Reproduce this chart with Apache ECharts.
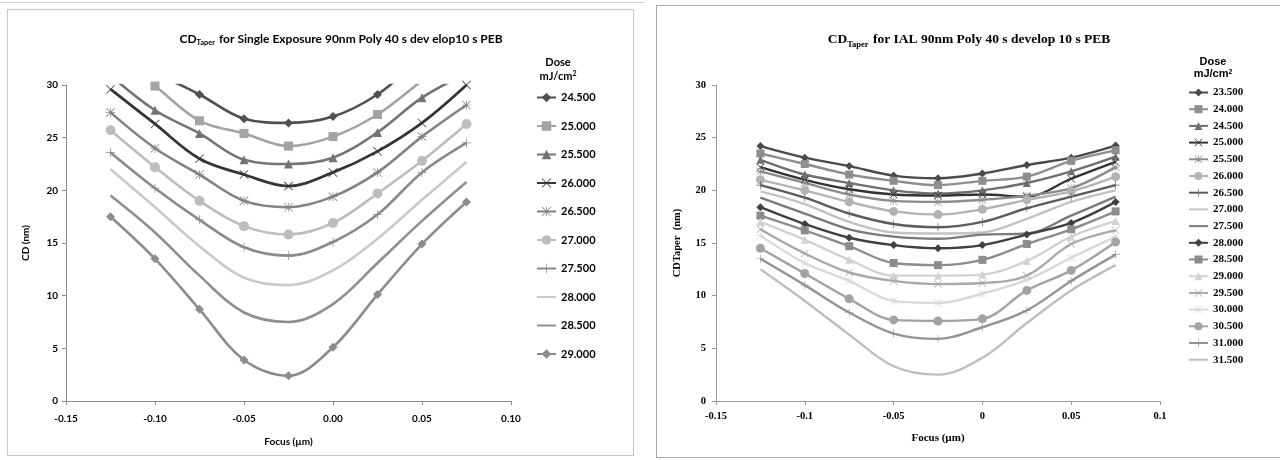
<!DOCTYPE html>
<html>
<head>
<meta charset="utf-8">
<script src="https://cdn.jsdelivr.net/npm/echarts@6/dist/echarts.min.js"></script>
<style>
html,body{margin:0;padding:0;background:#fff;width:1280px;height:460px;overflow:hidden;}
#topline{position:absolute;left:0;top:2px;width:645px;height:1px;background:#c9d6e6;}
#left{position:absolute;left:7px;top:9px;width:627px;height:447px;border:1px solid #c8c8c8;box-sizing:border-box;}
#right{position:absolute;left:656px;top:5px;width:624px;height:453px;border:1px solid #a8a8a8;border-right:none;box-sizing:border-box;}
</style>
</head>
<body>
<div id="topline"></div>
<div id="left"></div>
<div id="right"></div>
<script>
// ---------- shared x values ----------
const focus = [-0.125, -0.1, -0.075, -0.05, -0.025, 0, 0.025, 0.05, 0.075];
const xTicksLeft = ['-0.15', '-0.10', '-0.05', '0.00', '0.05', '0.10'];
const xTicksRight = ['-0.15', '-0.1', '-0.05', '0', '0.05', '0.1'];

// ---------- left chart: Single Exposure ----------
const leftDoses = ['24.500','25.000','25.500','26.000','26.500','27.000','27.500','28.000','28.500','29.000'];
const L245 = [33.5, 31.2, 29.1, 26.8, 26.4, 27.0, 29.1, 32.5, 35.0];
const L250 = [33.0, 29.9, 26.6, 25.4, 24.2, 25.1, 27.2, 30.4, 33.5];
const L255 = [30.9, 27.6, 25.4, 22.9, 22.5, 23.1, 25.5, 28.8, 31.1];
const L260 = [29.6, 26.3, 23.0, 21.5, 20.4, 21.7, 23.7, 26.4, 30.0];
const L265 = [27.4, 24.0, 21.5, 19.0, 18.4, 19.4, 21.7, 25.1, 28.1];
const L270 = [25.7, 22.2, 19.0, 16.6, 15.8, 16.9, 19.7, 22.8, 26.3];
const L275 = [23.6, 20.2, 17.2, 14.6, 13.8, 15.1, 17.7, 21.7, 24.5];
const L280 = [22.0, 18.4, 14.7, 11.7, 11.0, 12.4, 15.4, 19.1, 22.7];
const L285 = [19.5, 16.0, 11.9, 8.4, 7.5, 9.2, 13.1, 17.1, 20.8];
const L290 = [17.5, 13.5, 8.7, 3.9, 2.4, 5.1, 10.1, 14.9, 18.9];
const leftValues = [L245, L250, L255, L260, L265, L270, L275, L280, L285, L290];

// ---------- right chart: IAL ----------
const rightDoses = ['23.500','24.000','24.500','25.000','25.500','26.000','26.500','27.000','27.500',
                    '28.000','28.500','29.000','29.500','30.000','30.500','31.000','31.500'];
const R235 = [24.2, 23.1, 22.3, 21.4, 21.15, 21.6, 22.4, 23.1, 24.25];
const R240 = [23.5, 22.5, 21.5, 20.9, 20.5, 20.9, 21.3, 22.8, 23.8];
const R245 = [22.9, 21.5, 20.7, 20.0, 19.7, 20.0, 20.7, 21.8, 23.2];
const R250 = [22.2, 21.0, 20.1, 19.6, 19.5, 19.6, 19.4, 21.1, 22.7];
const R255 = [21.8, 20.7, 19.6, 19.0, 18.9, 19.1, 19.5, 20.2, 22.2];
const R260 = [21.0, 20.0, 18.9, 18.0, 17.7, 18.2, 19.1, 19.9, 21.3];
const R265 = [20.5, 19.3, 17.8, 16.8, 16.5, 17.0, 18.3, 19.4, 20.5];
const R270 = [19.9, 18.7, 17.0, 16.0, 15.9, 16.0, 17.3, 18.9, 20.0];
const R275 = [19.3, 17.8, 16.3, 15.6, 15.4, 15.8, 15.9, 17.6, 19.4];
const R280 = [18.4, 16.8, 15.5, 14.8, 14.5, 14.8, 15.8, 16.9, 18.9];
const R285 = [17.6, 16.2, 14.7, 13.1, 12.9, 13.4, 14.9, 16.3, 18.0];
const R290 = [17.0, 15.3, 13.4, 11.9, 11.9, 12.0, 13.3, 15.6, 17.1];
const R295 = [16.3, 14.0, 12.2, 11.4, 11.1, 11.2, 11.9, 14.9, 16.2];
const R300 = [15.7, 13.1, 11.4, 9.5, 9.3, 10.2, 11.5, 13.6, 15.6];
const R305 = [14.5, 12.1, 9.7, 7.7, 7.6, 7.8, 10.5, 12.4, 15.1];
const R310 = [13.5, 11.0, 8.4, 6.4, 5.9, 7.0, 8.6, 11.4, 13.9];
const R315 = [12.5, 9.5, 6.3, 3.3, 2.5, 4.1, 7.4, 10.5, 12.9];
const rightValues = [R235, R240, R245, R250, R255, R260, R265, R270, R275,
                     R280, R285, R290, R295, R300, R305, R310, R315];

// ---------- styling ----------
const SYM_X = 'path://M1.2,0L10,8.8L18.8,0L20,1.2L11.2,10L20,18.8L18.8,20L10,11.2L1.2,20L0,18.8L8.8,10L0,1.2Z';
const SYM_PLUS = 'path://M9.2,0H10.8V9.2H20V10.8H10.8V20H9.2V10.8H0V9.2H9.2Z';
const SYM_AST = 'path://M1.2,0L10,8.8L18.8,0L20,1.2L11.2,10L20,18.8L18.8,20L10,11.2L1.2,20L0,18.8L8.8,10L0,1.2Z M9.2,0H10.8V9.2H20V10.8H10.8V20H9.2V10.8H0V9.2H9.2Z';

const leftStyle = [
  {c:'#505050', s:'diamond', w:2.6},
  {c:'#a3a3a3', s:'rect', w:2.6},
  {c:'#737373', s:'triangle', w:2.6},
  {c:'#353535', s:SYM_X, w:2.8},
  {c:'#828282', s:SYM_AST, w:2.6},
  {c:'#bdbdbd', s:'circle', w:2.6},
  {c:'#8a8a8a', s:SYM_PLUS, w:2.6},
  {c:'#c9c9c9', s:'none', w:2.6},
  {c:'#8f8f8f', s:'none', w:2.6},
  {c:'#8c8c8c', s:'diamond', w:2.6}
];
const rightStyle = [
  {c:'#4a4a4a', s:'diamond'},
  {c:'#8e8e8e', s:'rect'},
  {c:'#6f6f6f', s:'triangle'},
  {c:'#333333', s:SYM_X},
  {c:'#8c8c8c', s:SYM_AST},
  {c:'#b3b3b3', s:'circle'},
  {c:'#5c5c5c', s:SYM_PLUS},
  {c:'#c2c2c2', s:'none'},
  {c:'#7a7a7a', s:'none'},
  {c:'#404040', s:'diamond'},
  {c:'#8c8c8c', s:'rect'},
  {c:'#d2d2d2', s:'triangle'},
  {c:'#a9a9a9', s:SYM_X},
  {c:'#d9d9d9', s:SYM_AST},
  {c:'#a3a3a3', s:'circle'},
  {c:'#939393', s:SYM_PLUS},
  {c:'#bebebe', s:'none'}
];

function buildSeries(names, values, styles, symSize, width) {
  return names.map((n, i) => ({
    name: n,
    type: 'line',
    smooth: 0.35,
    clip: true,
    data: focus.map((f, j) => [f, values[i][j]]),
    symbol: styles[i].s,
    symbolSize: styles[i].s === 'circle' ? symSize + 1 : symSize,
    showSymbol: styles[i].s !== 'none',
    lineStyle: {color: styles[i].c, width: styles[i].w || width},
    itemStyle: {color: styles[i].c, borderWidth: 0},
    emphasis: {disabled: true},
    animation: false
  }));
}
function legendData(names, styles) {
  return names.map((n, i) => styles[i].s === 'none' ? {name: n, itemStyle: {opacity: 0}} : {name: n});
}

function fmtLeft(v) { const k = Math.round((v + 0.15) / 0.05); return xTicksLeft[k] || ''; }
function fmtRight(v) { const k = Math.round((v + 0.15) / 0.05); return xTicksRight[k] || ''; }

// ---------- left chart ----------
const SANS = 'Lato, "Open Sans", sans-serif';
const leftChart = echarts.init(document.getElementById('left'));
leftChart.setOption({
  backgroundColor: '#fff',
  animation: false,
  grid: {left: 58, top: 75, width: 445, height: 316},
  xAxis: {
    type: 'value', min: -0.15, max: 0.1, interval: 0.05,
    axisLine: {onZero: false, lineStyle: {color: '#8c8c8c'}},
    axisTick: {show: true, length: 4, lineStyle: {color: '#8c8c8c'}},
    splitLine: {show: false},
    axisLabel: {formatter: fmtLeft, color: '#000', fontWeight: 'bold', fontSize: 10, fontFamily: SANS, margin: 13},
    name: 'Focus (µm)', nameLocation: 'middle', nameGap: 36,
    nameTextStyle: {color: '#000', fontWeight: 'bold', fontSize: 10, fontFamily: SANS}
  },
  yAxis: {
    type: 'value', min: 0, max: 30, interval: 5,
    axisLine: {show: true, onZero: false, lineStyle: {color: '#8c8c8c'}},
    axisTick: {show: true, length: 4, lineStyle: {color: '#8c8c8c'}},
    splitLine: {show: false},
    axisLabel: {color: '#000', fontWeight: 'bold', fontSize: 10, fontFamily: SANS, margin: 8},
    name: 'CD (nm)', nameLocation: 'middle', nameGap: 35, nameRotate: 90,
    nameTextStyle: {color: '#000', fontWeight: 'bold', fontSize: 10, fontFamily: SANS}
  },
  legend: {
    orient: 'vertical', left: 528, top: 82, padding: 0,
    itemWidth: 19, itemHeight: 12, itemGap: 17.5,
    selectedMode: false,
    textStyle: {color: '#000', fontWeight: 'bold', fontSize: 11, fontFamily: SANS},
    data: legendData(leftDoses, leftStyle)
  },
  graphic: [
    {type: 'text', x: 333, y: 27, style: {
      text: '{a|CD}{s|Taper}{a| for Single Exposure 90nm Poly 40 s dev elop10 s PEB}',
      align: 'center', verticalAlign: 'middle',
      rich: {
        a: {fontSize: 12, fontWeight: 'bold', fontFamily: SANS, fill: '#000', verticalAlign: 'bottom', lineHeight: 16},
        s: {fontSize: 7.5, fontWeight: 'bold', fontFamily: SANS, fill: '#000', verticalAlign: 'bottom', lineHeight: 12, padding: [0, 1, -2, 0]}
      }
    }},
    {type: 'text', x: 550, y: 52, style: {text: 'Dose', align: 'center', verticalAlign: 'middle', fontSize: 11, fontWeight: 'bold', fontFamily: SANS, fill: '#000'}},
    {type: 'text', x: 550, y: 66, style: {
      text: '{a|mJ/cm}{b|2}', align: 'center', verticalAlign: 'middle',
      rich: {a: {fontSize: 11, fontWeight: 'bold', fontFamily: SANS, fill: '#000', verticalAlign: 'top'},
             b: {fontSize: 7, fontWeight: 'bold', fontFamily: SANS, fill: '#000', verticalAlign: 'top', padding: [0, 0, 4, 0]}}
    }}
  ],
  series: buildSeries(leftDoses, leftValues, leftStyle, 9, 2.6)
});

// ---------- right chart ----------
const SERIF = '"Liberation Serif", "DejaVu Serif", serif';
const ARIAL = '"Liberation Sans", Arial, sans-serif';
const rightChart = echarts.init(document.getElementById('right'));
rightChart.setOption({
  backgroundColor: '#fff',
  animation: false,
  grid: {left: 59, top: 79, width: 444, height: 316},
  xAxis: {
    type: 'value', min: -0.15, max: 0.1, interval: 0.05,
    axisLine: {onZero: false, lineStyle: {color: '#9a9a9a'}},
    axisTick: {show: true, length: 4, lineStyle: {color: '#9a9a9a'}},
    splitLine: {show: false},
    axisLabel: {formatter: fmtRight, color: '#000', fontWeight: 'bold', fontSize: 10.5, fontFamily: SERIF, margin: 10},
    name: 'Focus (µm)', nameLocation: 'middle', nameGap: 32,
    nameTextStyle: {color: '#000', fontWeight: 'bold', fontSize: 11, fontFamily: SERIF}
  },
  yAxis: {
    type: 'value', min: 0, max: 30, interval: 5,
    axisLine: {show: true, onZero: false, lineStyle: {color: '#9a9a9a'}},
    axisTick: {show: true, length: 4, lineStyle: {color: '#9a9a9a'}},
    splitLine: {show: false},
    axisLabel: {color: '#000', fontWeight: 'bold', fontSize: 10.5, fontFamily: SERIF, margin: 10},
    name: 'CDTaper  (nm)', nameLocation: 'middle', nameGap: 33, nameRotate: 90,
    nameTextStyle: {color: '#000', fontWeight: 'bold', fontSize: 10.5, fontFamily: SERIF}
  },
  legend: {
    orient: 'vertical', left: 531, top: 81, padding: 0,
    itemWidth: 19, itemHeight: 10, itemGap: 5.7,
    selectedMode: false,
    textStyle: {color: '#000', fontWeight: 'bold', fontSize: 11, fontFamily: SERIF},
    data: legendData(rightDoses, rightStyle)
  },
  graphic: [
    {type: 'text', x: 312, y: 32, style: {
      text: '{a|CD}{s|Taper}{a| for IAL 90nm Poly 40 s develop 10 s PEB}',
      align: 'center', verticalAlign: 'middle',
      rich: {
        a: {fontSize: 13.5, fontWeight: 'bold', fontFamily: SERIF, fill: '#000', verticalAlign: 'bottom', lineHeight: 18},
        s: {fontSize: 8.5, fontWeight: 'bold', fontFamily: SERIF, fill: '#000', verticalAlign: 'bottom', lineHeight: 14, padding: [0, 1, -2, 0]}
      }
    }},
    {type: 'text', x: 556, y: 56, style: {text: 'Dose', align: 'center', verticalAlign: 'middle', fontSize: 11, fontWeight: 'bold', fontFamily: ARIAL, fill: '#000'}},
    {type: 'text', x: 556, y: 68, style: {
      text: '{a|mJ/cm}{b|2}', align: 'center', verticalAlign: 'middle',
      rich: {a: {fontSize: 11, fontWeight: 'bold', fontFamily: ARIAL, fill: '#000', verticalAlign: 'top'},
             b: {fontSize: 7, fontWeight: 'bold', fontFamily: ARIAL, fill: '#000', verticalAlign: 'top', padding: [0, 0, 4, 0]}}
    }}
  ],
  series: buildSeries(rightDoses, rightValues, rightStyle, 8, 2.4)
});
</script>
</body>
</html>
